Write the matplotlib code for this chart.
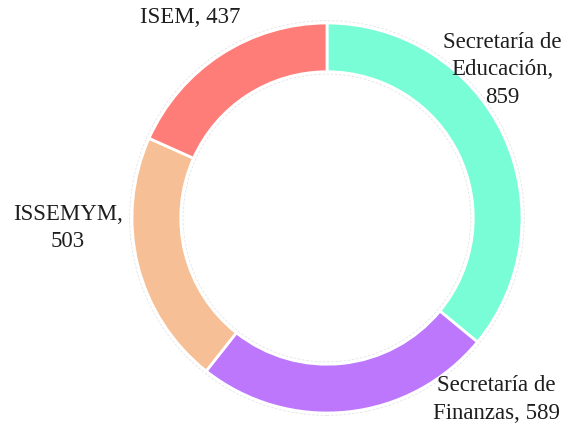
import matplotlib.pyplot as plt
from matplotlib.patches import Circle

labels = ['Secretaría de\nEducación,\n859', 'Secretaría de\nFinanzas, 589', 'ISSEMYM,\n503', 'ISEM, 437']
values = [859, 589, 503, 437]
colors = ['#78fdd6', '#bc77fc', '#f6bf95', '#ff7d78']

fig = plt.figure(figsize=(5.79, 4.33), dpi=100)
ax = fig.add_axes([0, 0, 1, 1])

wedges, _ = ax.pie(values, colors=colors, startangle=90, counterclock=False,
                   radius=1, wedgeprops=dict(width=0.25, edgecolor='white', linewidth=2))

# faint outline around the ring
ax.add_patch(Circle((0, 0), 1.012, fill=False, ec='#e4e4e4', lw=0.6, ls=(0, (3, 2))))
ax.add_patch(Circle((0, 0), 0.738, fill=False, ec='#e4e4e4', lw=0.6, ls=(0, (3, 2))))

# label positions (data units, ring radius = 1)
label_pos = [(0.90, 0.76), (0.87, -0.93), (-1.33, -0.05), (-0.70, 1.03)]
for txt, (x, y) in zip(labels, label_pos):
    ax.text(x, y, txt, ha='center', va='center', fontsize=16.5,
            family='Liberation Serif', color='#1e1e1e', linespacing=1.4)

ax.set_xlim(-327 / 195, (579 - 327) / 195)
ax.set_ylim(-215 / 195, 218 / 195)
ax.set_aspect('equal')
ax.axis('off')

plt.savefig('out.png', dpi=100)
